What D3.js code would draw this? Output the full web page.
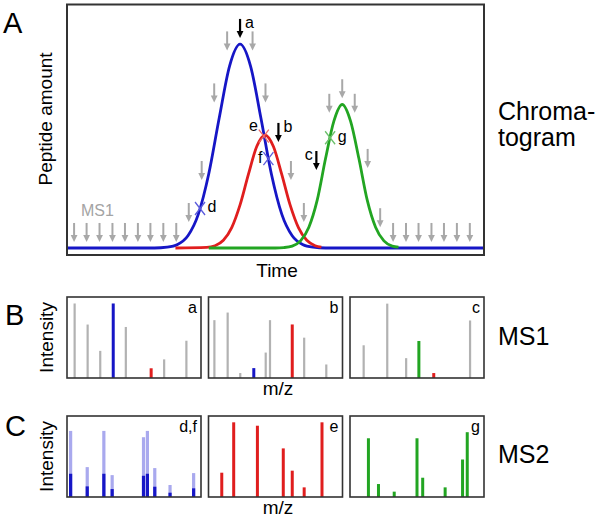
<!DOCTYPE html>
<html><head><meta charset="utf-8">
<script src="https://cdn.jsdelivr.net/npm/d3@7"></script>
<style>
body{margin:0;background:#fff}
svg{display:block;font-family:"Liberation Sans",Arial,Helvetica,sans-serif}
</style>
</head><body>
<svg id="chart" width="600" height="518"></svg>
<script>
// ---------- DATA ----------
// Chromatogram: peptide amount vs time
const blueTrace  = [[0,0],[21,0],[24,0.4],[26.5,1.7],[29,5.9],[31.5,16.3],[34,35.7],[36.5,62.5],[39,87.6],[41.5,98],[44,87.6],[46.5,62.5],[49,35.7],[51.5,16.3],[54,5.9],[56.5,1.7],[59,0.4],[62,0],[100,0]];
const redTrace   = [[26,0],[33.5,0.3],[35.5,1.1],[37.5,3.7],[39.5,9.8],[41.5,20.7],[43.5,35.4],[45.5,48.8],[47.5,54.3],[49.5,48.8],[51.5,35.4],[53.5,20.7],[55.5,9.8],[57.5,3.7],[59.5,1.1],[61,0.4]];
const greenTrace = [[34,0],[50,0],[52,0.2],[54,0.9],[56,3.4],[58,10],[60,23],[62,43],[64,61],[66,69],[68,61],[70,43],[72,23],[74,10],[76,3.4],[78,0.9],[79.5,0.4]];

// MS1 scan times and the amount where each scan arrow points
const scanTimes = [1.7,4.7,7.8,10.9,13.9,17.0,20.0,23.1,26.2,29.2,32.3,35.3,38.4,41.5,44.5,47.6,50.7,53.7,56.8,59.8,62.9,66.0,69.0,72.1,75.1,78.2,81.3,84.3,87.4,90.4,93.5,96.6];
const scanTips  = [2.9,2.9,2.9,2.9,2.9,2.9,2.9,2.9,2.9,12.5,32.7,70,95,101,95,70,51,32.7,12.5,37.5,65,72,65,38.5,10,2.9,2.9,2.9,2.9,2.9,2.9,2.9];
const scanLabels = {13:"a",16:"b",19:"c"};

// MS2 events on the chromatogram
const ms2Names  = ["d","e","f","g"];
const ms2Times  = [31.9,47.2,48.3,63.1];
const ms2Amount = [19,53.8,43,53];
const ms2Pep    = ["blue","red","blue","green"];

// MS1 spectra (m/z in 0-100 panel units, intensity 0-100)
const ms1Names = ["a","b","c"];
const ms1aMz  = [5.7,15.4,24.8,34.5,43.9,62.8,72.5,89.1];
const ms1aInt = [92,66,33.5,92,63,12,23,46];
const ms1aPep = ["o","o","o","blue","o","red","o","o"];
const ms1bMz  = [4.4,14.3,23.7,33.8,42.7,45.9,62.5,71.4,87.9];
const ms1bInt = [71.4,80.8,6.1,12.2,31.4,71.4,66.1,49.8,16.7];
const ms1bPep = ["o","o","o","blue","o","o","red","o","o"];
const ms1cMz  = [10.2,27.8,41.9,51.4,62.5,89.6];
const ms1cInt = [40.4,91.8,24.5,45.7,6.1,71];
const ms1cPep = ["o","o","o","green","red","o"];

// MS2 spectra
const ms2Labels = ["d,f","e","g"];
const ms2dfMz   = [2.7,15.1,27.5,33.7,57.1,60,65.5,76.9,94.5];
const ms2dInt   = [81.6,36.9,81.6,27,73.8,81.6,35.7,14.8,29.5];
const ms2fInt   = [28.7,13.1,28.7,9.8,26.2,28.7,12.7,5.3,10.7];
const ms2eMz    = [9.9,18.8,36.5,55.8,62.5,71.4,84.7];
const ms2eInt   = [30,92.2,88,60,32.5,11.9,92.2];
const ms2gMz    = [13.75,21.25,33,50,54.25,71,84,87.5];
const ms2gInt   = [72.5,16,6.6,72.5,23.8,11.9,46.3,80];

// ---------- STYLE ----------
const col = {blue:"#1616c6", red:"#e01e1e", green:"#22a522", o:"#b2b2b2", light:"#a9a9ee",
             arrow:"#a8a8a8", frame:"#333"};
const crossCol = {blue:"#5c5cdc", red:"#ee6a6a", green:"#6cc06c"};

const svg = d3.select("#chart");

// ---------- PANEL A ----------
const x = d3.scaleLinear().domain([0,100]).range([67,484]);
const y = d3.scaleLinear().domain([0,100]).range([248,40]);

const line = d3.line().x(d=>x(d[0])).y(d=>y(d[1])).curve(d3.curveMonotoneX);
[[blueTrace,col.blue],[redTrace,col.red],[greenTrace,col.green]].forEach(([tr,c])=>{
  svg.append("path").datum(tr).attr("d",line).attr("fill","none")
     .attr("stroke",c).attr("stroke-width",2.8).attr("stroke-linejoin","round");
});

// arrows
function arrow(g, cx, tipY, color, len, sw){
  g.append("line").attr("x1",cx).attr("x2",cx).attr("y1",tipY-len).attr("y2",tipY-5)
   .attr("stroke",color).attr("stroke-width",sw);
  g.append("path").attr("d",`M${cx-3.4},${tipY-7}L${cx+3.4},${tipY-7}L${cx},${tipY}Z`).attr("fill",color);
}
const ga = svg.append("g");
scanTimes.forEach((t,i)=>{
  const lab = scanLabels[i];
  const cx = x(t), ty = y(scanTips[i]);
  arrow(ga, cx, ty, lab ? "#000" : col.arrow, 19, lab ? 2.2 : 2);
  if(lab){
    const left = lab==="c";
    ga.append("text").attr("x", left ? cx-3.5 : cx+5).attr("y", ty-10)
      .attr("text-anchor", left ? "end":"start").attr("font-size",16).attr("fill","#000").text(lab);
  }
});

// MS2 crosses
ms2Names.forEach((n,i)=>{
  const cx = x(ms2Times[i]), cy = y(ms2Amount[i]);
  const c = crossCol[ms2Pep[i]];
  svg.append("path").attr("d",`M${cx-5},${cy-6.5}L${cx+5},${cy+6.5}M${cx+5},${cy-6.5}L${cx-5},${cy+6.5}`)
     .attr("stroke",c).attr("stroke-width",1.3).attr("fill","none");
  const leftSide = (n==="e"||n==="f");
  svg.append("text").attr("x", leftSide ? cx-6 : cx+7.5).attr("y", n==="e" ? cy-5 : cy+4)
     .attr("text-anchor", leftSide?"end":"start").attr("font-size",16).text(n);
});

svg.append("text").attr("x",81).attr("y",216).attr("font-size",16).attr("fill","#a4a4a4").text("MS1");

svg.append("rect").attr("x",67).attr("y",4.5).attr("width",417).attr("height",250.5)
   .attr("fill","none").attr("stroke",col.frame).attr("stroke-width",2);

svg.append("text").attr("x",277).attr("y",276.5).attr("text-anchor","middle").attr("font-size",19).text("Time");
svg.append("text").attr("transform","translate(52,119) rotate(-90)").attr("text-anchor","middle")
   .attr("font-size",19).text("Peptide amount");

// ---------- SPECTRA ----------
const panelX0 = [67,208.5,350], panelW = 134, panelH = 81;
function panel(px0, py0, bars, label){
  const mx = d3.scaleLinear().domain([0,100]).range([px0, px0+panelW]);
  const iy = d3.scaleLinear().domain([0,100]).range([py0+panelH, py0]);
  const g = svg.append("g");
  bars.forEach(b=>{
    g.append("rect").attr("x", mx(b.mz)-b.w/2).attr("width", b.w)
     .attr("y", iy(b.int)).attr("height", iy(0)-iy(b.int)).attr("fill", b.c);
  });
  g.append("rect").attr("x",px0).attr("y",py0).attr("width",panelW).attr("height",panelH)
   .attr("fill","none").attr("stroke",col.frame).attr("stroke-width",1.6);
  g.append("text").attr("x",px0+panelW-4).attr("y",py0+15.5).attr("text-anchor","end")
   .attr("font-size",16).text(label);
}
function ms1Bars(mz, it, pep){
  return mz.map((m,i)=>({mz:m, int:it[i], c:col[pep[i]], w: pep[i]==="o"?2.2:3}));
}
const yB = 297, yC = 416;
panel(panelX0[0], yB, ms1Bars(ms1aMz, ms1aInt, ms1aPep), ms1Names[0]);
panel(panelX0[1], yB, ms1Bars(ms1bMz, ms1bInt, ms1bPep), ms1Names[1]);
panel(panelX0[2], yB, ms1Bars(ms1cMz, ms1cInt, ms1cPep), ms1Names[2]);

const dfBars = ms2dfMz.map((m,i)=>({mz:m,int:ms2dInt[i],c:col.light,w:3.2}))
  .concat(ms2dfMz.map((m,i)=>({mz:m,int:ms2fInt[i],c:col.blue,w:3.2})));
panel(panelX0[0], yC, dfBars, ms2Labels[0]);
panel(panelX0[1], yC, ms2eMz.map((m,i)=>({mz:m,int:ms2eInt[i],c:col.red,w:3})), ms2Labels[1]);
panel(panelX0[2], yC, ms2gMz.map((m,i)=>({mz:m,int:ms2gInt[i],c:col.green,w:3})), ms2Labels[2]);

svg.append("text").attr("x",278).attr("y",395).attr("text-anchor","middle").attr("font-size",19).text("m/z");
svg.append("text").attr("x",278).attr("y",514).attr("text-anchor","middle").attr("font-size",19).text("m/z");
svg.append("text").attr("transform","translate(53,337.5) rotate(-90)").attr("text-anchor","middle")
   .attr("font-size",19).text("Intensity");
svg.append("text").attr("transform","translate(53,456.5) rotate(-90)").attr("text-anchor","middle")
   .attr("font-size",19).text("Intensity");

// ---------- LABELS ----------
[["A",3,33],["B",5,325],["C",5,436]].forEach(([t,lx,ly])=>{
  svg.append("text").attr("x",lx).attr("y",ly).attr("font-size",29).text(t);
});
svg.append("text").attr("x",498).attr("y",120).attr("font-size",25).text("Chroma-");
svg.append("text").attr("x",498).attr("y",146).attr("font-size",25).text("togram");
svg.append("text").attr("x",498).attr("y",345).attr("font-size",25).text("MS1");
svg.append("text").attr("x",498).attr("y",463).attr("font-size",25).text("MS2");
</script>
</body></html>
